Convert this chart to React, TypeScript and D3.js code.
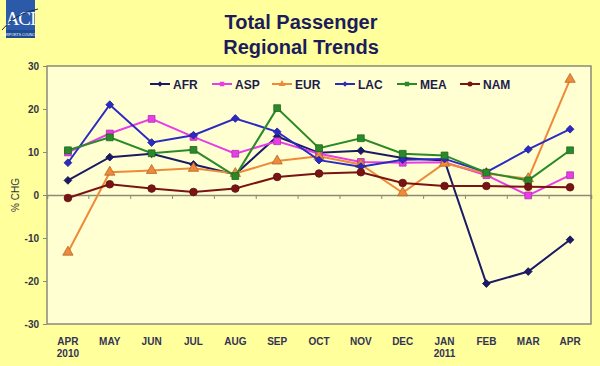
import { useEffect, useRef } from "react";
import * as d3 from "d3";

// months on the x axis (second line of label = year)
const months = ["APR", "MAY", "JUN", "JUL", "AUG", "SEP", "OCT", "NOV", "DEC", "JAN", "FEB", "MAR", "APR"];
const years = ["2010", "", "", "", "", "", "", "", "", "2011", "", "", ""];

// % change per region
const afr = [3.4, 8.8, 9.6, 7.1, 4.8, 13.6, 9.8, 10.3, 8.6, 8.0, -20.6, -17.8, -10.4];
const asp = [9.9, 14.3, 17.7, 13.5, 9.6, 12.5, 9.6, 7.7, 7.5, 7.6, 4.6, -0.1, 4.6];
const eur = [-13.3, 5.3, 5.7, 6.2, 5.0, 7.9, 9.0, 7.1, 0.5, 7.4, 5.0, 3.8, 26.9];
const lac = [7.5, 21.0, 12.2, 13.9, 17.8, 14.7, 8.1, 6.6, 8.2, 8.4, 5.3, 10.6, 15.3];
const mea = [10.4, 13.4, 9.7, 10.5, 4.4, 20.2, 10.9, 13.2, 9.6, 9.2, 5.2, 3.4, 10.4];
const nam = [-0.7, 2.5, 1.5, 0.7, 1.5, 4.2, 5.0, 5.3, 2.8, 2.1, 2.1, 1.9, 1.8];

const yTicks = [-30, -20, -10, 0, 10, 20, 30];

const series = [
  { name: "AFR", values: afr, color: "#1a1a66", symbol: "diamond" },
  { name: "ASP", values: asp, color: "#e83ee8", symbol: "square" },
  { name: "EUR", values: eur, color: "#ee8a3a", symbol: "triangle" },
  { name: "LAC", values: lac, color: "#2b2bc4", symbol: "diamond" },
  { name: "MEA", values: mea, color: "#2a8a2a", symbol: "square" },
  { name: "NAM", values: nam, color: "#7a1414", symbol: "circle" },
];

const App = () => {
  const chartRef = useRef(null);

  useEffect(() => {
    const width = 600;
    const height = 366;
    const margin = { top: 66, right: 9, bottom: 42, left: 47 };

    d3.select(chartRef.current).selectAll("*").remove();

    const svg = d3.select(chartRef.current)
      .append("svg")
      .attr("width", width)
      .attr("height", height)
      .style("position", "absolute")
      .style("left", 0)
      .style("top", 0)
      .style("font-family", "Arial, 'Liberation Sans', sans-serif");

    // background
    svg.append("rect").attr("width", width).attr("height", height).attr("fill", "#ffff9c");

    // logo
    const logo = svg.append("g");
    logo.append("rect").attr("x", 6).attr("y", 0).attr("width", 29).attr("height", 30).attr("fill", "#2a5aa8");
    logo.append("text").attr("x", 20.5).attr("y", 25).attr("text-anchor", "middle")
      .attr("font-family", "'Liberation Serif', serif").attr("font-size", 19).attr("fill", "#ffffff")
      .attr("letter-spacing", -1).text("ACI");
    logo.append("rect").attr("x", 6).attr("y", 30).attr("width", 29).attr("height", 8).attr("fill", "#1e4c94");
    logo.append("text").attr("x", 20.5).attr("y", 35.5).attr("text-anchor", "middle")
      .attr("font-size", 3.5).attr("fill", "#ffffff").text("AIRPORTS COUNCIL");
    logo.append("path").attr("d", "M2,30 Q14,14 38,9").attr("fill", "none").attr("stroke", "#1a2a50").attr("stroke-width", 1);

    // title
    const title = svg.append("text").attr("text-anchor", "middle").attr("font-weight", "bold")
      .attr("font-size", 20).attr("fill", "#1c1c5c");
    title.append("tspan").attr("x", 301).attr("y", 29).text("Total Passenger");
    title.append("tspan").attr("x", 301).attr("y", 54).text("Regional Trends");

    const x = d3.scaleBand()
      .domain(months.map((_, i) => i))
      .range([margin.left, width - margin.right]);

    const y = d3.scaleLinear()
      .domain([-30, 30])
      .range([height - margin.bottom, margin.top]);

    // plot area
    svg.append("rect")
      .attr("x", margin.left)
      .attr("y", margin.top)
      .attr("width", width - margin.left - margin.right)
      .attr("height", height - margin.top - margin.bottom)
      .attr("fill", "#ffffd2")
      .attr("stroke", "#8a8a7a")
      .attr("stroke-width", 1.5);

    // y axis
    const yAxis = svg.append("g")
      .attr("transform", `translate(${margin.left},0)`)
      .call(d3.axisLeft(y).tickValues(yTicks).tickSize(4).tickPadding(4).tickFormat(d => String(d)));
    yAxis.select(".domain").remove();
    yAxis.selectAll("line").attr("stroke", "#8a8a7a");
    yAxis.selectAll("text").attr("font-size", 10).attr("font-weight", "bold").attr("fill", "#333344")
      .attr("font-family", "Arial, 'Liberation Sans', sans-serif");

    // zero line with category ticks
    const zero = svg.append("g")
      .attr("transform", `translate(0,${y(0)})`)
      .call(d3.axisBottom(x).tickSize(4).tickFormat(() => ""));
    zero.select(".domain").attr("stroke", "#8a8a7a").attr("stroke-width", 1.5);
    zero.selectAll(".tick line")
      .attr("stroke", "#8a8a7a")
      .attr("transform", `translate(${x.bandwidth() / 2},0)`);

    // x labels
    const labels = svg.append("g").attr("font-size", 10).attr("font-weight", "bold").attr("fill", "#333355")
      .attr("text-anchor", "middle");
    months.forEach((m, i) => {
      const cx = x(i) + x.bandwidth() / 2;
      labels.append("text").attr("x", cx).attr("y", 345).text(m);
      if (years[i]) labels.append("text").attr("x", cx).attr("y", 357).text(years[i]);
    });

    // y title
    svg.append("text")
      .attr("transform", `translate(19,${y(0)}) rotate(-90)`)
      .attr("text-anchor", "middle")
      .attr("font-size", 10)
      .attr("fill", "#333344")
      .text("% CHG");

    // diamonds drawn as a square turned 45 degrees
    const symbolType = {
      diamond: d3.symbolSquare,
      square: d3.symbolSquare,
      triangle: d3.symbolTriangle,
      circle: d3.symbolCircle,
    };
    const rot = s => (s === "diamond" ? " rotate(45)" : "");

    const line = d3.line()
      .x((_, i) => x(i) + x.bandwidth() / 2)
      .y(d => y(d));

    series.forEach(s => {
      const g = svg.append("g");
      g.append("path")
        .datum(s.values)
        .attr("fill", "none")
        .attr("stroke", s.color)
        .attr("stroke-width", 2)
        .attr("d", line);
      g.selectAll("path.pt")
        .data(s.values)
        .enter()
        .append("path")
        .attr("class", "pt")
        .attr("transform", (d, i) => `translate(${x(i) + x.bandwidth() / 2},${y(d)})${rot(s.symbol)}`)
        .attr("d", d3.symbol().type(symbolType[s.symbol]).size(s.symbol === "diamond" ? 30 : 46))
        .attr("fill", s.color)
        .attr("stroke", d3.color(s.color).darker(0.8))
        .attr("stroke-width", 0.8);
    });

    // legend
    const legendX = [150, 212, 272, 335, 397, 460];
    series.forEach((s, i) => {
      const g = svg.append("g").attr("transform", `translate(${legendX[i]},84)`);
      g.append("line").attr("x1", 0).attr("x2", 20).attr("stroke", s.color).attr("stroke-width", 2);
      g.append("path").attr("transform", `translate(10,0)${rot(s.symbol)}`)
        .attr("d", d3.symbol().type(symbolType[s.symbol]).size(s.symbol === "diamond" ? 14 : 20))
        .attr("fill", s.color);
      g.append("text").attr("x", 23).attr("y", 4.5).attr("font-size", 12).attr("font-weight", "bold")
        .attr("fill", "#1c1c4c").text(s.name);
    });
  }, []);

  return <div ref={chartRef}></div>;
};

export default App;
